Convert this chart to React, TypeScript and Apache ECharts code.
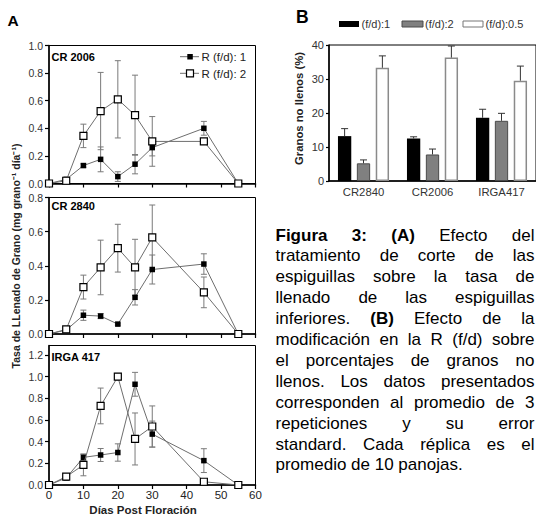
import React, { useEffect, useRef } from "react";
import * as echarts from "echarts";

// ---------- Data: panel A (grain filling rate, mg grano-1 dia-1) ----------
const days = [0, 5, 10, 15, 20, 25, 30, 45, 55];

const cr2006R1 = [0, 0.03, 0.13, 0.175, 0.05, 0.14, 0.26, 0.4, 0];
const cr2006R1Err = [0, 0.01, 0.012, 0.09, 0.035, 0.07, 0.06, 0.05, 0];
const cr2006R2 = [0, 0.02, 0.345, 0.525, 0.61, 0.495, 0.305, 0.305, 0];
const cr2006R2Err = [0, 0.01, 0.085, 0.28, 0.28, 0.29, 0.18, 0.02, 0];

const cr2840R1 = [0, 0.023, 0.11, 0.105, 0.058, 0.215, 0.378, 0.41, 0];
const cr2840R1Err = [0, 0.015, 0.03, 0.015, 0.006, 0.045, 0.085, 0.06, 0];
const cr2840R2 = [0, 0.027, 0.275, 0.39, 0.503, 0.39, 0.566, 0.244, 0];
const cr2840R2Err = [0, 0.01, 0.07, 0.16, 0.14, 0.165, 0.19, 0.09, 0];

const irgaR1 = [0, 0.065, 0.255, 0.277, 0.3, 0.93, 0.47, 0.225, 0];
const irgaR1Err = [0, 0.01, 0.03, 0.06, 0.08, 0.11, 0.12, 0.11, 0];
const irgaR2 = [0, 0.077, 0.185, 0.73, 1.0, 0.425, 0.54, 0.03, 0];
const irgaR2Err = [0, 0.01, 0.1, 0.165, 0.03, 0.24, 0.19, 0.02, 0];

const panelTitles = ["CR 2006", "CR 2840", "IRGA 417"];
const yMaxA = [1.0, 0.8, 1.288];
const yTicks1 = [0, 0.2, 0.4, 0.6, 0.8, 1.0];
const yTicks2 = [0, 0.2, 0.4, 0.6, 0.8];
const yTicks3 = [0, 0.2, 0.4, 0.6, 0.8, 1.0, 1.2];
const legendA = ["R (f/d): 1", "R (f/d): 2"];

// ---------- Data: panel B (granos no llenos, %) ----------
const categoriesB = ["CR2840", "CR2006", "IRGA417"];
const ratio1 = [13.2, 12.5, 18.6];
const ratio1Err = [2.2, 0.5, 2.5];
const ratio2 = [5.2, 7.8, 17.7];
const ratio2Err = [1.0, 1.6, 2.2];
const ratio05 = [33.3, 36.3, 29.5];
const ratio05Err = [3.5, 3.4, 4.3];
const legendB = ["(f/d):1", "(f/d):2", "(f/d):0.5"];

// ---------- Caption ----------
const captionLines = [
  "Figura 3: (A) Efecto del",
  "tratamiento de corte de las",
  "espiguillas sobre la tasa de",
  "llenado de las espiguillas",
  "inferiores. (B) Efecto de la",
  "modificación en la R (f/d) sobre",
  "el porcentajes de granos no",
  "llenos. Los datos presentados",
  "corresponden al promedio de 3",
  "repeticiones y su error",
  "standard. Cada réplica es el",
  "promedio de 10 panojas.",
];
const captionBold = ["Figura", "3:", "(A)", "(B)"];

const FONT = '"Liberation Sans", Arial, Helvetica, sans-serif';

function buildCaption() {
  const canvas = document.createElement("canvas");
  const ctx = canvas.getContext("2d") as CanvasRenderingContext2D;
  const size = 17;
  const x0 = 275.5;
  const x1 = 534.5;
  const y0 = 235;
  const lh = 20.9;
  const meas = (t: string, bold: boolean) => {
    ctx.font = `${bold ? "bold " : ""}${size}px ${FONT}`;
    return ctx.measureText(t).width;
  };
  const els: any[] = [];
  captionLines.forEach((line, li) => {
    const words = line.split(" ");
    const bolds = words.map((w) => captionBold.includes(w));
    const widths = words.map((w, i) => meas(w, bolds[i]));
    const total = widths.reduce((a, b) => a + b, 0);
    const justify = li < captionLines.length - 1 && words.length > 1;
    const gap = justify ? (x1 - x0 - total) / (words.length - 1) : meas(" ", false);
    let x = x0;
    words.forEach((w, wi) => {
      const last = justify && wi === words.length - 1;
      els.push({
        type: "text",
        x: last ? x1 : x,
        y: y0 + li * lh,
        silent: true,
        style: {
          text: w,
          fontSize: size,
          fontFamily: FONT,
          fontWeight: bolds[wi] ? "bold" : "normal",
          fill: "#000",
          textAlign: last ? "right" : "left",
          textVerticalAlign: "middle",
        },
      });
      x += widths[wi] + gap;
    });
  });
  return els;
}

function errRenderA(color: string) {
  return (params: any, api: any) => {
    const x = api.value(0);
    const y = api.value(1);
    const e = api.value(2);
    if (!e) return null;
    const top = api.coord([x, y + e]);
    const bot = api.coord([x, y - e]);
    const cap = 3;
    const st = { stroke: color, lineWidth: 1 };
    return {
      type: "group",
      children: [
        { type: "line", shape: { x1: top[0], y1: top[1], x2: bot[0], y2: bot[1] }, style: st },
        { type: "line", shape: { x1: top[0] - cap, y1: top[1], x2: top[0] + cap, y2: top[1] }, style: st },
        { type: "line", shape: { x1: bot[0] - cap, y1: bot[1], x2: bot[0] + cap, y2: bot[1] }, style: st },
      ],
    };
  };
}

const BAR_W = 13.3;
const BAR_GAP = 0.42;

function errRenderB(offset: number) {
  return (params: any, api: any) => {
    const i = api.value(0);
    const v = api.value(1);
    const e = api.value(2);
    const base = api.coord([i, v]);
    const top = api.coord([i, v + e]);
    const x = base[0] + offset;
    const cap = 3.5;
    const st = { stroke: "#333", lineWidth: 1 };
    return {
      type: "group",
      children: [
        { type: "line", shape: { x1: x, y1: base[1], x2: x, y2: top[1] }, style: st },
        { type: "line", shape: { x1: x - cap, y1: top[1], x2: x + cap, y2: top[1] }, style: st },
      ],
    };
  };
}

function buildOption() {
  const panels = [
    { r1: cr2006R1, r1e: cr2006R1Err, r2: cr2006R2, r2e: cr2006R2Err, ticks: yTicks1 },
    { r1: cr2840R1, r1e: cr2840R1Err, r2: cr2840R2, r2e: cr2840R2Err, ticks: yTicks2 },
    { r1: irgaR1, r1e: irgaR1Err, r2: irgaR2, r2e: irgaR2Err, ticks: yTicks3 },
  ];
  const gridsA = [
    { left: 49, top: 45.5, width: 206.5, height: 138 },
    { left: 49, top: 197.5, width: 206.5, height: 136.5 },
    { left: 49, top: 345.5, width: 206.5, height: 139.5 },
  ];
  const grid: any[] = gridsA.map((g) => ({ ...g, show: true, borderColor: "#000", borderWidth: 1, containLabel: false }));
  grid.push({ left: 329, top: 45, right: -2, height: 136, show: true, borderColor: "#000", borderWidth: 1, containLabel: false });

  const axisLine = { show: true, lineStyle: { color: "#000", width: 1.5 } };
  const xAxis: any[] = panels.map((p, i) => ({
    type: "value",
    gridIndex: i,
    min: 0,
    max: 60,
    interval: 10,
    axisLine,
    axisTick: { show: true, length: 4, lineStyle: { color: "#000", width: 1.2 } },
    axisLabel: { show: i === 2, fontSize: 11.5, color: "#222", margin: 4, fontFamily: FONT },
    splitLine: { show: false },
  }));
  xAxis.push({
    type: "category",
    gridIndex: 3,
    data: categoriesB,
    axisLine,
    axisTick: { show: false },
    axisLabel: { fontSize: 11.3, color: "#333", margin: 5, fontFamily: FONT },
  });
  const yAxis: any[] = panels.map((p, i) => ({
    type: "value",
    gridIndex: i,
    min: 0,
    max: yMaxA[i],
    axisLine,
    axisTick: { show: true, length: 4, customValues: p.ticks, lineStyle: { color: "#000", width: 1.2 } },
    axisLabel: {
      customValues: p.ticks,
      fontSize: 10.5,
      color: "#333",
      margin: 6,
      fontFamily: FONT,
      formatter: (v: number) => v.toFixed(1),
    },
    splitLine: { show: false },
  }));
  yAxis.push({
    type: "value",
    gridIndex: 3,
    min: 0,
    max: 40,
    interval: 10,
    axisLine,
    axisTick: { show: true, length: 3, lineStyle: { color: "#000", width: 1.2 } },
    axisLabel: { fontSize: 11, color: "#333", margin: 5, fontFamily: FONT },
    splitLine: { show: false },
  });

  const series: any[] = [];
  panels.forEach((p, i) => {
    series.push({
      type: "custom",
      xAxisIndex: i,
      yAxisIndex: i,
      z: 1,
      clip: false,
      renderItem: errRenderA("#7a7a7a"),
      encode: { x: 0, y: 1 },
      data: days.map((d, k) => [d, p.r1[k], p.r1e[k]]),
    });
    series.push({
      type: "custom",
      xAxisIndex: i,
      yAxisIndex: i,
      z: 1,
      clip: false,
      renderItem: errRenderA("#7a7a7a"),
      encode: { x: 0, y: 1 },
      data: days.map((d, k) => [d, p.r2[k], p.r2e[k]]),
    });
    series.push({
      type: "line",
      name: legendA[0],
      xAxisIndex: i,
      yAxisIndex: i,
      z: 3,
      symbol: "rect",
      symbolSize: 5.5,
      showAllSymbol: true,
      clip: false,
      itemStyle: { color: "#000" },
      lineStyle: { color: "#6e6e6e", width: 1 },
      data: days.map((d, k) => [d, p.r1[k]]),
    });
    series.push({
      type: "line",
      name: legendA[1],
      xAxisIndex: i,
      yAxisIndex: i,
      z: 4,
      symbol: "rect",
      symbolSize: 7,
      showAllSymbol: true,
      clip: false,
      itemStyle: { color: "#fff", borderColor: "#000", borderWidth: 1.2 },
      lineStyle: { color: "#6e6e6e", width: 1 },
      data: days.map((d, k) => [d, p.r2[k]]),
    });
  });

  const barSets = [
    { name: legendB[0], vals: ratio1, errs: ratio1Err, style: { color: "#000" } },
    { name: legendB[1], vals: ratio2, errs: ratio2Err, style: { color: "#808080", borderColor: "#4a4a4a", borderWidth: 1 } },
    { name: legendB[2], vals: ratio05, errs: ratio05Err, style: { color: "#fff", borderColor: "#8a8a8a", borderWidth: 1.5 } },
  ];
  const step = BAR_W * (1 + BAR_GAP);
  barSets.forEach((b) => {
    series.push({
      type: "bar",
      name: b.name,
      xAxisIndex: 3,
      yAxisIndex: 3,
      barWidth: BAR_W,
      barGap: `${BAR_GAP * 100}%`,
      itemStyle: b.style,
      z: 2,
      data: b.vals,
    });
  });
  barSets.forEach((b, j) => {
    series.push({
      type: "custom",
      xAxisIndex: 3,
      yAxisIndex: 3,
      z: 3,
      clip: false,
      renderItem: errRenderB((j - 1) * step),
      encode: { x: 0, y: 1 },
      data: categoriesB.map((c, k) => [k, b.vals[k], b.errs[k]]),
    });
  });

  const txt = (x: number, y: number, text: string, size: number, opts: any = {}) => ({
    type: "text",
    x,
    y,
    silent: true,
    rotation: opts.rotation || 0,
    style: {
      text,
      fontSize: size,
      fontFamily: FONT,
      fontWeight: opts.bold ? "bold" : "normal",
      fill: opts.fill || "#000",
      textAlign: opts.align || "left",
      textVerticalAlign: "middle",
    },
  });

  const graphic: any[] = [
    txt(7.5, 20, "A", 15.5, { bold: true }),
    txt(296, 17, "B", 17.5, { bold: true }),
    txt(51.5, 56.7, panelTitles[0], 11, { bold: true }),
    txt(51.5, 205.8, panelTitles[1], 11, { bold: true }),
    txt(51.5, 356.7, panelTitles[2], 11, { bold: true }),
    txt(16, 256, "Tasa de LLenado de Grano (mg grano\u207B\u00B9 día\u207B\u00B9)", 10.5, { bold: true, rotation: Math.PI / 2, align: "center", fill: "#222" }),
    txt(299, 108.5, "Granos no llenos (%)", 11.3, { bold: true, rotation: Math.PI / 2, align: "center", fill: "#222" }),
    txt(143, 509.5, "Días Post Floración", 11.5, { bold: true, align: "center", fill: "#222" }),
    // legend A
    { type: "line", silent: true, shape: { x1: 180, y1: 56.7, x2: 199, y2: 56.7 }, style: { stroke: "#6e6e6e", lineWidth: 1 } },
    { type: "rect", silent: true, shape: { x: 187.3, y: 54, width: 5.5, height: 5.5 }, style: { fill: "#000" } },
    txt(201.5, 57, legendA[0], 11.5, { fill: "#222" }),
    { type: "line", silent: true, shape: { x1: 180, y1: 73.3, x2: 199, y2: 73.3 }, style: { stroke: "#6e6e6e", lineWidth: 1 } },
    { type: "rect", silent: true, shape: { x: 186.5, y: 69.8, width: 7, height: 7 }, style: { fill: "#fff", stroke: "#000", lineWidth: 1.2 } },
    txt(201.5, 73.6, legendA[1], 11.5, { fill: "#222" }),
    // legend B
    { type: "rect", silent: true, shape: { x: 339, y: 21, width: 20, height: 6 }, style: { fill: "#000" } },
    txt(361.5, 24, legendB[0], 11, { fill: "#333" }),
    { type: "rect", silent: true, shape: { x: 402, y: 21, width: 21, height: 6 }, style: { fill: "#808080", stroke: "#4a4a4a", lineWidth: 1 } },
    txt(425, 24, legendB[1], 11, { fill: "#333" }),
    { type: "rect", silent: true, shape: { x: 463, y: 21, width: 20, height: 6 }, style: { fill: "#fff", stroke: "#777", lineWidth: 1 } },
    txt(485.5, 24, legendB[2], 11, { fill: "#333" }),
    ...buildCaption(),
  ];

  return {
    animation: false,
    backgroundColor: "#fff",
    textStyle: { fontFamily: FONT },
    grid,
    xAxis,
    yAxis,
    series,
    graphic,
  };
}

export default function App() {
  const ref = useRef<HTMLDivElement>(null);
  useEffect(() => {
    if (!ref.current) return;
    const chart = echarts.init(ref.current, null, { renderer: "svg" });
    chart.setOption(buildOption() as any);
    return () => chart.dispose();
  }, []);
  return (
    <div
      ref={ref}
      style={{ position: "absolute", left: 0, top: 0, width: 536, height: 516, background: "#fff" }}
    />
  );
}
